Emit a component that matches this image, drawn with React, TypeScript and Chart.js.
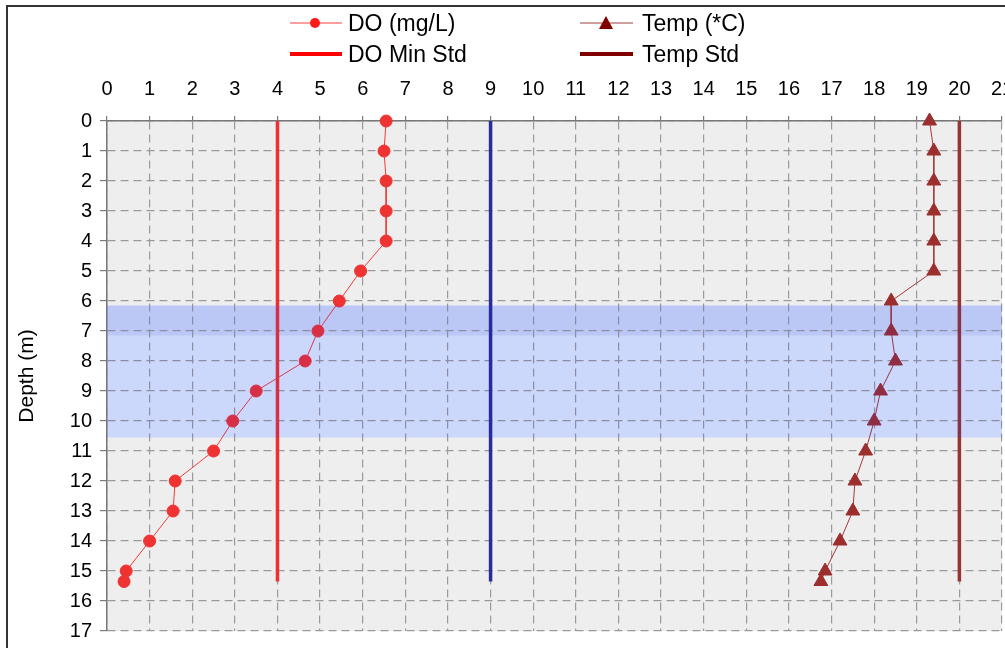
import React, { useEffect, useRef } from "react";
import { Chart, registerables } from "chart.js";

Chart.register(...registerables);

// ---- data ----
const depths = [0, 1, 2, 3, 4, 5, 6, 7, 8, 9, 10, 11, 12, 13, 14, 15, 15.35];
const doValues = [6.55, 6.5, 6.55, 6.55, 6.55, 5.95, 5.45, 4.95, 4.65, 3.5, 2.95, 2.5, 1.6, 1.55, 1.0, 0.45, 0.4];
const tempValues = [19.3, 19.4, 19.4, 19.4, 19.4, 19.4, 18.4, 18.4, 18.5, 18.15, 18.0, 17.8, 17.55, 17.5, 17.2, 16.85, 16.75];
const doMinStd = 4;
const doRefLine = 9;
const tempStd = 20;
const stdDepthRange = [0, 15.35];
const xRange = [0, 21];
const yRange = [0, 17];
const bandLight = [6.15, 10.55];
const bandDark = [6.15, 7.15];
const seriesLabels = ["DO (mg/L)", "Temp (*C)", "DO Min Std", "Temp Std"];
const axisTitle = "Depth (m)";

const FONT = "'Liberation Sans', Arial, Helvetica, sans-serif";

function bandRect(chart: any, range: number[], color: string) {
  const { ctx, chartArea } = chart;
  const y = chart.scales.y;
  const y0 = y.getPixelForValue(range[0]);
  const y1 = y.getPixelForValue(range[1]);
  ctx.fillStyle = color;
  ctx.fillRect(chartArea.left, y0, chartArea.right - chartArea.left, y1 - y0);
}

const bgPlugin = {
  id: "plotBg",
  beforeDraw(chart: any) {
    const { ctx, chartArea } = chart;
    ctx.save();
    ctx.fillStyle = "#eeeeee";
    ctx.fillRect(chartArea.left, chartArea.top, chartArea.right - chartArea.left, chartArea.bottom - chartArea.top);
    bandRect(chart, bandLight, "rgb(226,240,255)");
    bandRect(chart, bandDark, "rgb(208,222,250)");
    ctx.restore();
  },
};

const bandPlugin = {
  id: "bands",
  afterDatasetsDraw(chart: any) {
    const { ctx, chartArea } = chart;
    ctx.save();
    ctx.beginPath();
    ctx.rect(chartArea.left, chartArea.top, chartArea.right - chartArea.left, chartArea.bottom - chartArea.top);
    ctx.clip();
    bandRect(chart, bandLight, "rgba(40,40,220,0.12)");
    ctx.restore();
  },
};

function vline(x: number) {
  return stdDepthRange.map((d) => ({ x, y: d }));
}

export default function App() {
  const ref = useRef<HTMLCanvasElement | null>(null);

  useEffect(() => {
    if (!ref.current) return;
    Chart.defaults.font.family = FONT;
    const gridCommon = {
      color: "#9a9a9a",
      lineWidth: 1.2,
      tickColor: "#7a7a7a",
      tickWidth: 1.2,
      drawTicks: true,
    };
    const chart = new Chart(ref.current, {
      type: "scatter",
      data: {
        datasets: [
          {
            label: seriesLabels[0],
            data: depths.map((d, i) => ({ x: doValues[i], y: d })),
            showLine: true,
            clip: false,
            borderColor: "#f03c3c",
            borderWidth: 1,
            backgroundColor: "#ef3232",
            pointBackgroundColor: "#ef3232",
            pointBorderColor: "#ef3232",
            pointBorderWidth: 1,
            pointRadius: 6,
            pointStyle: "circle",
            order: 1,
          },
          {
            label: seriesLabels[1],
            data: depths.map((d, i) => ({ x: tempValues[i], y: d })),
            showLine: true,
            clip: false,
            borderColor: "#a83838",
            borderWidth: 1,
            backgroundColor: "#9c2e2e",
            pointBackgroundColor: "#9c2e2e",
            pointBorderColor: "#9c2e2e",
            pointBorderWidth: 1,
            pointRadius: 8,
            pointStyle: "triangle",
            order: 1,
          },
          {
            label: seriesLabels[2],
            data: vline(doMinStd),
            showLine: true,
            borderColor: "#ee3030",
            borderWidth: 3.5,
            pointRadius: 0,
            order: 2,
          },
          {
            label: seriesLabels[3],
            data: vline(tempStd),
            showLine: true,
            borderColor: "#983333",
            borderWidth: 3.5,
            pointRadius: 0,
            order: 2,
          },
          {
            label: "",
            data: vline(doRefLine),
            showLine: true,
            borderColor: "#2a2a98",
            borderWidth: 3.5,
            pointRadius: 0,
            order: 2,
          },
        ],
      },
      options: {
        responsive: false,
        animation: false,
        devicePixelRatio: 1,
        layout: { padding: { left: 0, top: 0, right: 28, bottom: 17 } },
        plugins: { legend: { display: false }, tooltip: { enabled: false } },
        scales: {
          x: {
            type: "linear",
            position: "top",
            min: xRange[0],
            max: xRange[1],
            ticks: { stepSize: 1, color: "#000", font: { size: 20, family: FONT }, padding: 15, autoSkip: false, maxRotation: 0 },
            grid: { ...gridCommon, tickLength: 5 },
            border: { display: true, color: "#777", width: 1.5, dash: [8, 5] },
            afterFit(s: any) {
              s.height = 121;
              s.paddingLeft = 0;
              s.paddingRight = 0;
            },
          },
          y: {
            type: "linear",
            position: "left",
            reverse: true,
            min: yRange[0],
            max: yRange[1],
            ticks: { stepSize: 1, color: "#000", font: { size: 20, family: FONT }, padding: 8, autoSkip: false },
            grid: { ...gridCommon, tickLength: 7 },
            border: { display: true, color: "#777", width: 1.5, dash: [8, 5] },
            title: { display: true, text: axisTitle, color: "#000", font: { size: 21, family: FONT }, padding: { top: 15, bottom: 0 } },
            afterFit(s: any) {
              s.width = 107;
              s.paddingTop = 0;
              s.paddingBottom = 0;
            },
          },
        },
      } as any,
      plugins: [bgPlugin, bandPlugin],
    });
    return () => chart.destroy();
  }, []);

  const textStyle: React.CSSProperties = {
    position: "absolute",
    fontFamily: FONT,
    fontSize: 23,
    lineHeight: "26px",
    height: 26,
    color: "#000",
    whiteSpace: "nowrap",
  };

  return (
    <div style={{ position: "fixed", left: 0, top: 0, width: 1005, height: 648, overflow: "hidden", background: "#fff" }}>
      <canvas ref={ref} width={1030} height={648} style={{ position: "absolute", left: 0, top: 0, width: 1030, height: 648 }} />
      <div style={{ position: "absolute", left: 6, top: 5, width: 1200, height: 800, borderLeft: "2px solid #333", borderTop: "2px solid #333" }} />
      {/* legend */}
      <svg style={{ position: "absolute", left: 290, top: 10 }} width={52} height={26}>
        <line x1={0} y1={13} x2={52} y2={13} stroke="#ff4040" strokeWidth={1} />
        <circle cx={25} cy={13} r={5} fill="#ff1a1a" />
      </svg>
      <div style={{ ...textStyle, left: 348, top: 10 }}>{seriesLabels[0]}</div>
      <svg style={{ position: "absolute", left: 580, top: 10 }} width={53} height={26}>
        <line x1={0} y1={13} x2={53} y2={13} stroke="#a04040" strokeWidth={1} />
        <polygon points="26,6 33,19 19,19" fill="#800000" />
      </svg>
      <div style={{ ...textStyle, left: 642, top: 10 }}>{seriesLabels[1]}</div>
      <svg style={{ position: "absolute", left: 290, top: 41 }} width={52} height={26}>
        <line x1={0} y1={13} x2={52} y2={13} stroke="#ff0000" strokeWidth={4} strokeLinecap="round" />
      </svg>
      <div style={{ ...textStyle, left: 348, top: 41 }}>{seriesLabels[2]}</div>
      <svg style={{ position: "absolute", left: 580, top: 41 }} width={53} height={26}>
        <line x1={0} y1={13} x2={53} y2={13} stroke="#800000" strokeWidth={4} strokeLinecap="round" />
      </svg>
      <div style={{ ...textStyle, left: 642, top: 41 }}>{seriesLabels[3]}</div>
    </div>
  );
}
